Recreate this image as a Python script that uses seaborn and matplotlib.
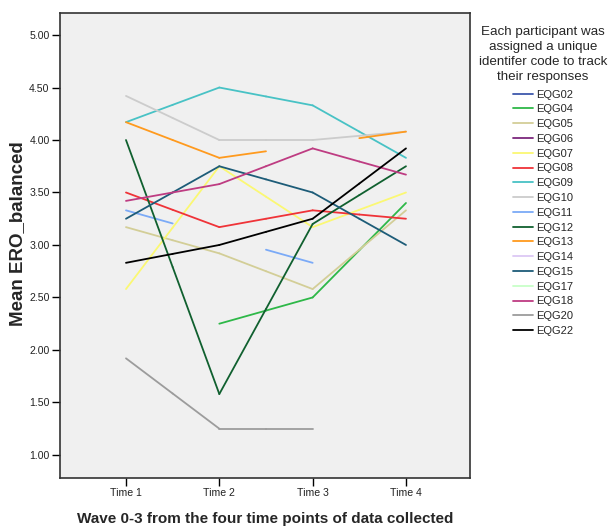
import numpy as np
import pandas as pd
import matplotlib
matplotlib.use("Agg")
import matplotlib.pyplot as plt
import seaborn as sns
from matplotlib.lines import Line2D

nan = np.nan

# Measurement waves and participant identifiers
times = ["Time 1", "Time 2", "Time 3", "Time 4"]
participants = ["EQG02", "EQG04", "EQG05", "EQG06", "EQG07", "EQG08", "EQG09",
                "EQG10", "EQG11", "EQG12", "EQG13", "EQG14", "EQG15", "EQG17",
                "EQG18", "EQG20", "EQG22"]

# Mean ERO_balanced per participant at each wave (nan = not collected)
eqg02 = [nan, nan, nan, nan]
eqg04 = [nan, 2.25, 2.50, 3.40]
eqg05 = [3.17, 2.92, 2.58, 3.33]
eqg06 = [nan, nan, nan, nan]
eqg07 = [2.58, 3.75, 3.17, 3.50]
eqg08 = [3.50, 3.17, 3.33, 3.25]
eqg09 = [4.17, 4.50, 4.33, 3.83]
eqg10 = [4.42, 4.00, 4.00, 4.08]
eqg11 = [3.33, nan, 2.83, nan]
eqg12 = [4.00, 1.58, 3.20, 3.75]
eqg13 = [4.17, 3.83, nan, 4.08]
eqg14 = [nan, nan, nan, nan]
eqg15 = [3.25, 3.75, 3.50, 3.00]
eqg17 = [nan, nan, nan, nan]
eqg18 = [3.42, 3.58, 3.92, 3.67]
eqg20 = [1.92, 1.25, 1.25, nan]
eqg22 = [2.83, 3.00, 3.25, 3.92]

series = [eqg02, eqg04, eqg05, eqg06, eqg07, eqg08, eqg09, eqg10, eqg11,
          eqg12, eqg13, eqg14, eqg15, eqg17, eqg18, eqg20, eqg22]

colors = ["#3E58AC", "#2EB848", "#D3CE97", "#7C287D", "#FBF873", "#EF3338",
          "#48C2C5", "#CCCCCC", "#7BAAF7", "#10602F", "#FF9A1E", "#DCC8F5",
          "#1D5C78", "#C8FFC8", "#BE3C82", "#9C9C9C", "#000000"]
palette = dict(zip(participants, colors))

# Each observed wave draws half-segments towards its neighbours; gaps are
# bridged by linear interpolation, so only halves next to real values show.
rows = []
seg = 0
for name, vals in zip(participants, series):
    v = pd.Series(vals, dtype=float)
    filled = v.interpolate(limit_area="inside")
    for i in range(len(times) - 1):
        a, b = filled[i], filled[i + 1]
        if np.isnan(a) or np.isnan(b):
            continue
        mid = (a + b) / 2
        if not np.isnan(v[i]):
            rows += [(name, seg, i, a), (name, seg, i + 0.5, mid)]
            seg += 1
        if not np.isnan(v[i + 1]):
            rows += [(name, seg, i + 0.5, mid), (name, seg, i + 1, b)]
            seg += 1
df = pd.DataFrame(rows, columns=["participant", "seg", "pos", "score"])

sns.set_theme(style="white")
plt.rcParams["font.family"] = ["Liberation Sans", "DejaVu Sans"]

fig = plt.figure(figsize=(6.15, 5.27), dpi=100)
ax = fig.add_axes([60 / 615, 1 - 478 / 527, 410 / 615, 465 / 527])
ax.set_facecolor("#F0F0F0")

sns.lineplot(data=df, x="pos", y="score", hue="participant", units="seg",
             estimator=None, hue_order=participants, palette=palette,
             sort=False, legend=False, linewidth=1.3, ax=ax)

ax.set_xlim(-0.707, 3.686)
ax.set_ylim(0.78, 5.21)
ax.set_xticks(range(len(times)))
ax.set_xticklabels(times)
yt = [1.0, 1.5, 2.0, 2.5, 3.0, 3.5, 4.0, 4.5, 5.0]
ax.set_yticks(yt)
ax.set_yticklabels([f"{t:.2f}" for t in yt])
ax.tick_params(axis="both", which="major", direction="out", length=5.5,
               width=1, color="black", labelsize=7.6, labelcolor="#222222",
               left=True, bottom=True, pad=2)
for sp in ax.spines.values():
    sp.set_color("#333333")
    sp.set_linewidth(1.2)

ax.set_xlabel("Wave 0-3 from the four time points of data collected",
              fontsize=11, fontweight="bold", labelpad=10)
ax.set_ylabel("Mean ERO_balanced", fontsize=13.5, fontweight="bold")
ax.yaxis.set_label_coords(-34 / 410, 0.525)

handles = [Line2D([], [], color=palette[p], lw=1.3) for p in participants]
leg = fig.legend(handles, participants,
                 title="Each participant was\nassigned a unique\nidentifer code to track\ntheir responses",
                 loc="upper center", bbox_to_anchor=(543 / 615, 1 - 16 / 527),
                 frameon=False, fontsize=8, title_fontsize=9.6,
                 handlelength=1.8, handletextpad=0.3, labelspacing=0.43,
                 alignment="center")
leg.get_title().set_multialignment("center")
leg.get_title().set_linespacing(1.32)
leg._legend_box.sep = 5

fig.savefig("out.png", dpi=100)
